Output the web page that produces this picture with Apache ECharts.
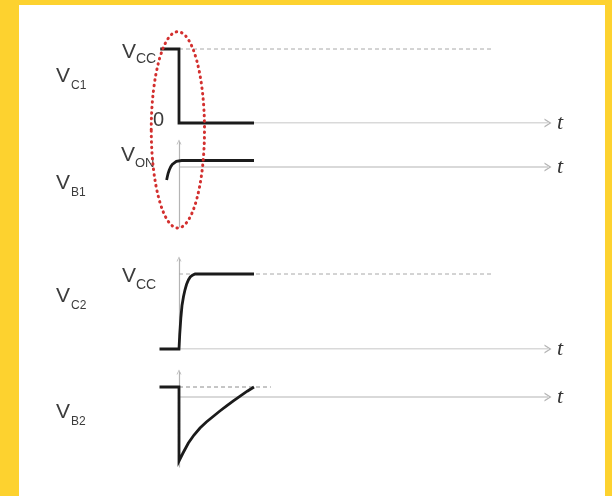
<!DOCTYPE html>
<html>
<head>
<meta charset="utf-8">
<script src="https://cdn.jsdelivr.net/npm/echarts@6/dist/echarts.min.js"></script>
<style>
html, body { margin: 0; padding: 0; background: #fdd22f; }
#paper { position: absolute; left: 19px; top: 5px; width: 586px; height: 491px; background: #fff; }
#main { position: absolute; left: 0; top: 0; width: 612px; height: 496px; }
</style>
</head>
<body>
<div id="paper"></div>
<div id="main"></div>
<script>
// time: 0 = switching instant
var tMin = -0.6;
var tMax = 9.84;
var tAxis = [[0, 0], [tMax, 0]];

// V_C1 (Vcc = 1)
var vc1 = [[-0.5, 1], [0, 1], [0, 0], [2, 0]];
var vc1Ref = [[0, 1], [8.4, 1]];
// V_B1
var vb1 = [[-0.33, -1.3], [-0.31, -0.95], [-0.29, -0.63], [-0.26, -0.3], [-0.22, 0.03], [-0.18, 0.25], [-0.13, 0.43], [-0.07, 0.56], [-0.02, 0.62], [0.07, 0.65], [2, 0.65]];
// V_C2 (Vcc = 1)
var vc2 = [[-0.52, 0], [0, 0], [0.02, 0.2], [0.05, 0.42], [0.08, 0.58], [0.12, 0.7], [0.16, 0.79], [0.2, 0.86], [0.25, 0.92], [0.3, 0.96], [0.36, 0.985], [0.43, 1], [2, 1]];
var vc2Ref = [[0, 1], [8.4, 1]];
// V_B2
var vb2 = [[-0.52, 1], [0, 1], [0, -6.4], [0.1, -5.65], [0.25, -4.6], [0.4, -3.8], [0.56, -3.1], [0.73, -2.5], [0.91, -1.95], [1.09, -1.4], [1.27, -0.88], [1.45, -0.38], [1.64, 0.12], [1.82, 0.58], [2, 1]];
var vb2Ref = [[0, 1], [2.45, 1]];

// y ranges of the four panels
var yMin = [0, -6, 0, -7];
var yMax = [1, 2.5, 1.2, 2.5];
var gridTop = [49, 142, 259, 372];
var gridH = [74, 85, 90, 95];
var showY = [false, true, true, true];

// red dotted ring round the switching instant
var ringT = -0.03;
var ringHalfW = 0.71;
var ringTopVc1 = 1.234;
var ringBotVb1 = -6.1;

var chevron = 'path://M0,10 L5,0 L10,10 L8.4,10 L5,3.2 L1.6,10 Z';
var axisGray = '#b4b4b4';
var ink = '#1b1b1b';

var myChart = echarts.init(document.getElementById('main'));

function makeX(i) {
	return {
		gridIndex : i,
		type : 'value',
		min : tMin,
		max : tMax,
		axisLine : {
			show : true,
			onZero : true,
			symbol : 'none',
			lineStyle : { color : axisGray, opacity : 0 }
		},
		axisTick : { show : false },
		axisLabel : { show : false },
		splitLine : { show : false },
		name : 't',
		nameLocation : 'end',
		nameGap : 9,
		nameTextStyle : {
			fontFamily : 'Liberation Serif',
			fontStyle : 'italic',
			fontSize : 22,
			color : '#333'
		}
	};
}

function makeY(i) {
	return {
		gridIndex : i,
		type : 'value',
		min : yMin[i],
		max : yMax[i],
		axisLine : {
			show : showY[i],
			onZero : true,
			symbol : ['none', chevron],
			symbolSize : [7, 5],
			lineStyle : { color : axisGray, width : 1.2 }
		},
		axisTick : { show : false },
		axisLabel : { show : false },
		splitLine : { show : false }
	};
}

// t axis from the switching instant on, with open arrow head
function timeAxis(i) {
	return {
		type : 'line',
		xAxisIndex : i,
		yAxisIndex : i,
		data : tAxis,
		showSymbol : false,
		silent : true,
		z : 1,
		lineStyle : { color : axisGray, width : 1.2 },
		markPoint : {
			silent : true,
			symbol : chevron,
			symbolSize : [9, 7],
			symbolRotate : -90,
			label : { show : false },
			itemStyle : { color : axisGray },
			data : [{ coord : [tMax, 0] }]
		}
	};
}

function thick(i, data) {
	return {
		type : 'line',
		xAxisIndex : i,
		yAxisIndex : i,
		data : data,
		showSymbol : false,
		clip : false,
		z : 5,
		lineStyle : { color : ink, width : 2.8, cap : 'butt', join : 'miter' }
	};
}

function dashed(i, data, color) {
	return {
		type : 'line',
		xAxisIndex : i,
		yAxisIndex : i,
		data : data,
		showSymbol : false,
		clip : false,
		z : 3,
		lineStyle : { color : color, width : 1, type : [4, 3] }
	};
}

var grids = [], xAxes = [], yAxes = [];
for (var i = 0; i < 4; i++) {
	grids.push({ left : 156.5, right : 64, top : gridTop[i], height : gridH[i] });
	xAxes.push(makeX(i));
	yAxes.push(makeY(i));
}

function label(x, y, txt, size, align) {
	return {
		type : 'text',
		x : x,
		y : y,
		z : 50,
		style : {
			text : txt,
			fontFamily : 'Liberation Sans',
			fontSize : size,
			fill : '#3c3c3c',
			align : align || 'left',
			verticalAlign : 'middle'
		}
	};
}

option = {
	animation : false,
	grid : grids,
	xAxis : xAxes,
	yAxis : yAxes,
	series : [
		timeAxis(0), timeAxis(1), timeAxis(2), timeAxis(3),
		dashed(0, vc1Ref, '#a8a8a8'),
		thick(0, vc1),
		thick(1, vb1),
		dashed(2, vc2Ref, '#a8a8a8'),
		thick(2, vc2),
		dashed(3, vb2Ref, '#8c8c8c'),
		thick(3, vb2)
	]
};
myChart.setOption(option);

// ring and labels
var ringTop = myChart.convertToPixel({ gridIndex : 0 }, [ringT, ringTopVc1]);
var ringBot = myChart.convertToPixel({ gridIndex : 1 }, [ringT, ringBotVb1]);
var ringSide = myChart.convertToPixel({ gridIndex : 0 }, [ringT + ringHalfW, 0]);

myChart.setOption({
	graphic : [
		{
			type : 'ellipse',
			z : 60,
			shape : {
				cx : ringTop[0],
				cy : (ringTop[1] + ringBot[1]) / 2,
				rx : ringSide[0] - ringTop[0],
				ry : (ringBot[1] - ringTop[1]) / 2
			},
			style : {
				fill : 'none',
				stroke : '#d3302f',
				lineWidth : 3,
				lineDash : [0.5, 5],
				lineCap : 'round'
			}
		},
		// left signal names
		label(56, 76, 'V', 21), label(71, 86, 'C1', 12),
		label(56, 183, 'V', 21), label(71, 193, 'B1', 12),
		label(56, 296, 'V', 21), label(71, 306, 'C2', 12),
		label(56, 412, 'V', 21), label(71, 422, 'B2', 12),
		// level marks
		label(122, 52, 'V', 21), label(136, 59, 'CC', 14),
		label(153, 120, '0', 20),
		label(121, 155, 'V', 21), label(135, 163, 'ON', 13),
		label(122, 276, 'V', 21), label(136, 285, 'CC', 14)
	]
});
</script>
</body>
</html>
